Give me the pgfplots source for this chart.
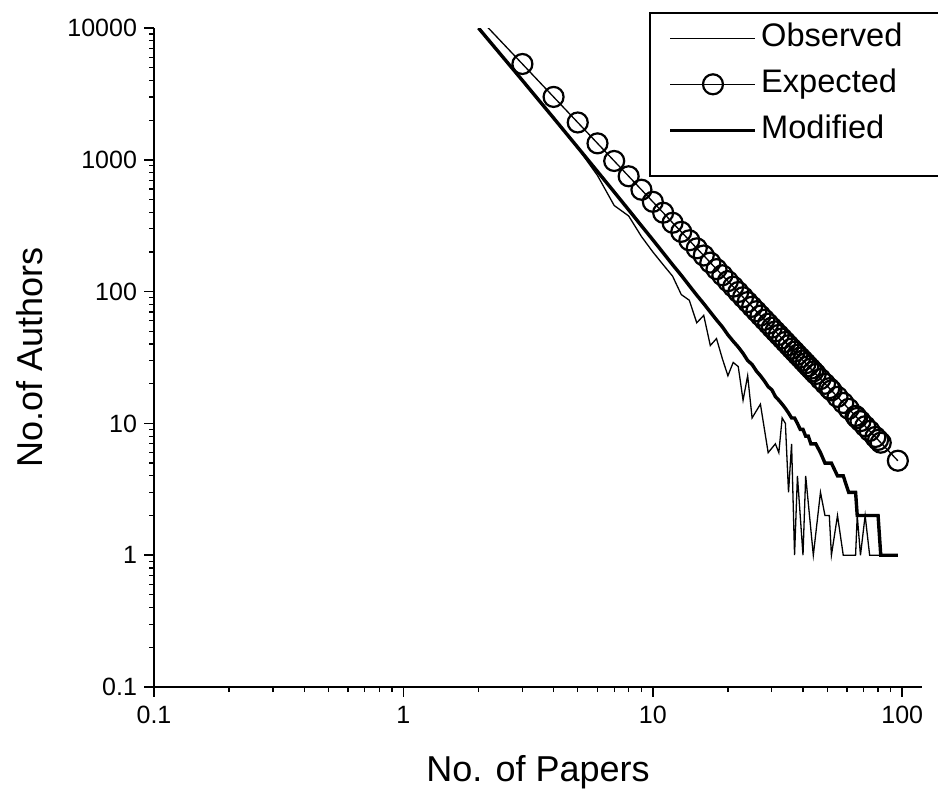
\documentclass[border=0pt]{standalone}
\usepackage{fontspec}
\setmainfont{Liberation Sans}
\usepackage{pgfplots}
\pgfplotsset{compat=1.18}
\usepackage{pgfplotstable}
\tikzset{entry/.style={text width=80pt, align=left, text height=11.5pt, text depth=3.5pt}}

\pgfplotstableread{
x y
2 10050
3 3950
4 2060
5 1230
6 760
7 450
8 375
9 262
10 200
11 160
12 131
13 95
14 86
15 58
16 66
17 39
18 44
19 31
20 23
21 29
22 27
23 15
24 23
25 11
27 14
29 6
31 7
32 6
33 11
34 10
35 3
36 7
37 1
38 4
40 1
41 4
44 1
47 3
49 2
51 2
52 1
55 2
58 1
61 1
65 1
66 2
68 1
71 2
74 1
78 1
80 1
82 1
96 1
}\observed

\pgfplotstableread{
x y
2 12000
3 5333
4 3000
5 1920
6 1333
7 980
8 750
9 593
10 480
11 397
12 333
13 284
14 245
15 213
16 188
17 166
18 148
19 133
20 120
21 109
22 99.2
23 90.7
24 83.3
25 76.8
26 71.0
27 65.8
28 61.2
29 57.1
30 53.3
31 49.9
32 46.9
33 44.1
34 41.5
35 39.2
36 37.0
37 35.1
38 33.2
39 31.6
40 30.0
41 28.6
42 27.2
43 26.0
44 24.8
45 23.7
47 21.7
49 20.0
51 18.5
52 17.8
55 15.9
58 14.3
61 12.9
65 11.4
66 11.0
68 10.4
71 9.52
74 8.77
78 7.89
80 7.50
82 7.14
96 5.21
}\expected

\pgfplotstableread{
x y
2 10000
3 4002
4 2076
5 1242
6 815
7 570
8 417
9 316
10 247
11 197
12 160
13 133
14 111
15 94
16 81
17 70
18 61
19 54
20 47
21 42
22 38
23 34
24 30
25 28
26 25
27 23
28 21
29 19
30 18
31 16
32 15
33 14
34 13
35 12
36 11
37 11
38 10
39 9
40 9
41 8
42 8
43 7
44 7
45 7
47 6
49 5
51 5
52 5
55 4
58 4
61 3
65 3
66 2
68 2
71 2
74 2
78 2
80 2
82 1
96 1
}\modified

\begin{document}
\begin{tikzpicture}
\begin{axis}[
  scale only axis,
  width=384pt, height=329.5pt,
  xmode=log, ymode=log,
  xmin=0.1, xmax=120,
  ymin=0.1, ymax=10000,
  axis lines=left,
  axis line style={-, line width=0.9pt, shorten <=-4pt},
  tick align=outside,
  major tick length=5pt, minor tick length=2.5pt,
  tick style={black, line width=0.8pt},
  minor tick style={line width=0.6pt},
  xtick={0.1,1,10,100}, xticklabels={0.1,1,10,100},
  ytick={0.1,1,10,100,1000,10000}, yticklabels={0.1,1,10,100,1000,10000},
  minor xtick={0.2,0.3,0.4,0.5,0.6,0.7,0.8,0.9,2,3,4,5,6,7,8,9,20,30,40,50,60,70,80,90},
  minor ytick={0.2,0.3,0.4,0.5,0.6,0.7,0.8,0.9,2,3,4,5,6,7,8,9,20,30,40,50,60,70,80,90,
    200,300,400,500,600,700,800,900,2000,3000,4000,5000,6000,7000,8000,9000},
  ticklabel style={font=\fontsize{12.5}{15}\selectfont},
  xticklabel style={yshift=-1pt},
  xlabel={No. of Papers}, ylabel={No.of Authors},
  label style={font=\fontsize{18}{21}\selectfont},
  xlabel style={at={(axis description cs:0.5,-0.13)}, anchor=center},
  ylabel style={at={(axis description cs:-0.1615,0.5)}, anchor=center},
  clip marker paths=true,
  legend style={at={(axis description cs:0.6445,1.0243)}, anchor=north west,
    draw=black, line width=0.8pt, inner xsep=9.5pt, inner ysep=3.25pt,
    row sep=4pt, font=\fontsize{16.3}{19}\selectfont,
    nodes={inner sep=2pt}},
  legend cell align=left,
  legend image code/.code={\draw[#1, mark repeat=2, mark phase=2]
    plot coordinates {(0pt,0pt) (21.25pt,0pt) (42.5pt,0pt)};},
]
\addplot[black, line width=0.65pt, no marks] table {\observed};
\addlegendentry[entry]{Observed}
\addplot[black, line width=0.65pt, mark=o, mark size=5pt,
  mark options={line width=1.1pt}] table {\expected};
\addlegendentry[entry]{Expected}
\addplot[black, line width=1.7pt, no marks] table {\modified};
\addlegendentry[entry]{Modified}
\addlegendimage{empty legend}
\addlegendentry[text height=1pt, text depth=1pt]{}
\end{axis}
\pgfresetboundingbox
\path[use as bounding box] (-77pt,-51pt) rectangle (392pt,343.5pt);
\end{tikzpicture}
\end{document}
